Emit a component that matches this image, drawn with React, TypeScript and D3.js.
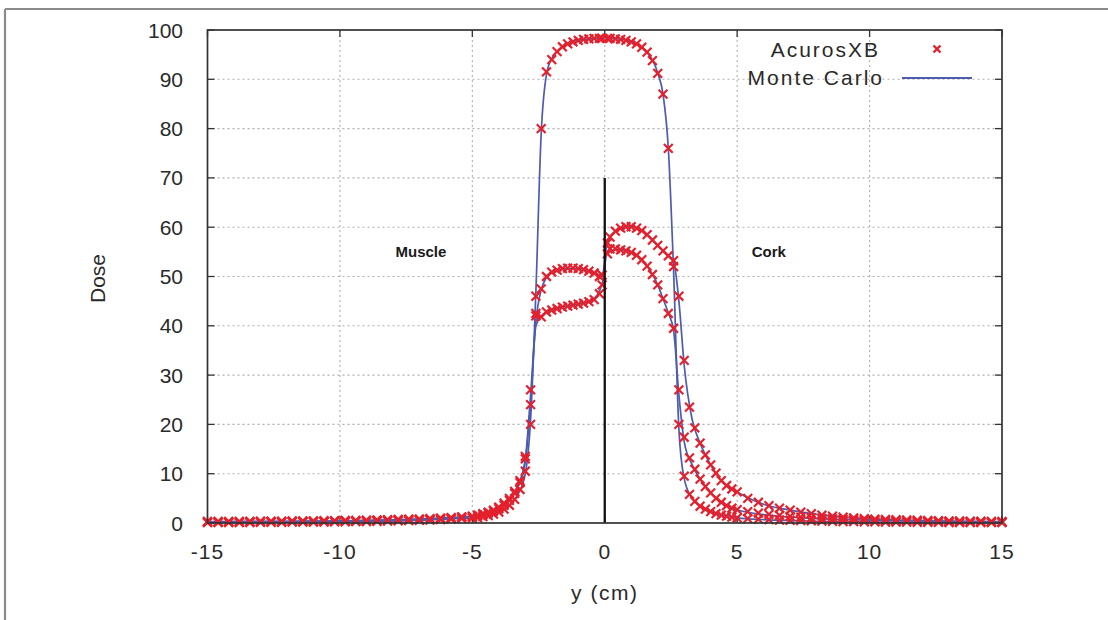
import React from "react";
import * as d3 from "d3";

// AcurosXB sample positions (cm)
const xAxb: number[] = [
  -15, -14.6, -14.2, -13.8, -13.4, -13, -12.6, -12.2, -11.8, -11.4, -11, -10.6, -10.2, -9.8, -9.4, -9, -8.6, -8.2, -7.8, -7.4, -7, -6.6, -6.2, -5.8, -5.4,
  -5, -4.8, -4.6, -4.4, -4.2, -4, -3.8, -3.6, -3.4, -3.2, -3, -2.8, -2.6, -2.4, -2.2, -2, -1.8, -1.6, -1.4, -1.2, -1, -0.8, -0.6, -0.4, -0.2, -0.1,
  0.1, 0.2, 0.4, 0.6, 0.8, 1, 1.2, 1.4, 1.6, 1.8, 2, 2.2, 2.4, 2.6, 2.8, 3, 3.2, 3.4, 3.6, 3.8, 4, 4.2, 4.4, 4.6, 4.8, 5,
  5.4, 5.8, 6.2, 6.6, 7, 7.4, 7.8, 8.2, 8.6, 9, 9.4, 9.8, 10.2, 10.6, 11, 11.4, 11.8, 12.2, 12.6, 13, 13.4, 13.8, 14.2, 14.6, 15,
];

// AcurosXB doses – open profile (homogeneous)
const axbA: number[] = [
  0.1, 0.1, 0.1, 0.1, 0.1, 0.15, 0.15, 0.15, 0.2, 0.2, 0.2, 0.2, 0.25, 0.25, 0.3, 0.3, 0.35, 0.4, 0.45, 0.5, 0.55, 0.6, 0.7, 0.8, 0.9,
  1.0, 1.1, 1.3, 1.5, 1.8, 2.2, 2.8, 3.6, 4.8, 6.8, 10.5, 20, 46, 80, 91.5, 94, 95.6, 96.6, 97.2, 97.6, 97.9, 98.1, 98.2, 98.3, 98.3, 98.3,
  98.3, 98.3, 98.2, 98.1, 97.9, 97.6, 97.2, 96.5, 95.5, 93.8, 91.2, 87, 76, 52, 20, 9.5, 5.8, 4.4, 3.4, 2.8, 2.3, 1.9, 1.6, 1.4, 1.2, 1.05,
  0.9, 0.8, 0.7, 0.6, 0.55, 0.5, 0.45, 0.4, 0.35, 0.3, 0.3, 0.25, 0.25, 0.2, 0.2, 0.2, 0.15, 0.15, 0.15, 0.1, 0.1, 0.1, 0.1, 0.1, 0.1,
];
// AcurosXB doses – upper muscle/cork profile
const axbB: number[] = [
  0.3, 0.3, 0.3, 0.3, 0.3, 0.35, 0.35, 0.35, 0.4, 0.4, 0.4, 0.45, 0.45, 0.5, 0.5, 0.55, 0.6, 0.65, 0.7, 0.75, 0.8, 0.9, 1.0, 1.1, 1.25,
  1.4, 1.6, 1.9, 2.2, 2.6, 3.2, 4.0, 5.0, 6.4, 8.6, 13.5, 27, 42, 47.5, 50, 50.9, 51.3, 51.6, 51.7, 51.7, 51.6, 51.4, 51.1, 50.7, 50.0, 50.3,
  56.8, 58, 59.2, 59.8, 60.1, 60.1, 59.8, 59.3, 58.5, 57.4, 56.3, 55.2, 54.2, 53.2, 46, 33, 23.5, 19.3, 16.2, 13.8, 11.8, 10.1, 8.6, 7.6, 6.9, 6.3,
  5.0, 4.2, 3.5, 3.0, 2.6, 2.2, 1.9, 1.6, 1.4, 1.2, 1.05, 0.9, 0.8, 0.7, 0.65, 0.6, 0.55, 0.5, 0.45, 0.4, 0.4, 0.35, 0.35, 0.3, 0.3,
];
// AcurosXB doses – lower muscle/cork profile
const axbC: number[] = [
  0.25, 0.25, 0.25, 0.25, 0.3, 0.3, 0.3, 0.3, 0.35, 0.35, 0.35, 0.4, 0.4, 0.45, 0.45, 0.5, 0.55, 0.6, 0.65, 0.7, 0.75, 0.85, 0.95, 1.05, 1.2,
  1.3, 1.5, 1.7, 2.0, 2.4, 2.9, 3.6, 4.6, 6.0, 8.2, 13, 24, 42.5, 41.8, 42.8, 43.2, 43.5, 43.8, 44.0, 44.2, 44.4, 44.6, 44.9, 45.3, 46.5, 48.3,
  54.6, 55.6, 55.6, 55.4, 55.2, 54.9, 54.3, 53.4, 52.1, 50.4, 48.3, 45.5, 42.5, 39.5, 27, 17.4, 13.2, 10.9, 8.9, 7.4, 6.1, 5.0, 4.2, 3.5, 3.0, 2.7,
  2.3, 2.0, 1.75, 1.55, 1.35, 1.2, 1.05, 0.95, 0.85, 0.75, 0.7, 0.6, 0.55, 0.5, 0.45, 0.4, 0.4, 0.35, 0.35, 0.3, 0.3, 0.25, 0.25, 0.25, 0.2,
];

// Monte Carlo positions (cm)
const xMc: number[] = [
  -15, -12, -10, -8, -7, -6, -5, -4.5, -4, -3.6, -3.3, -3.0, -2.8, -2.6, -2.4, -2.2, -2.0, -1.5, -1.0, -0.5, -0.1,
  0.1, 0.5, 1.0, 1.5, 2.0, 2.2, 2.4, 2.6, 2.8, 3.0, 3.3, 3.6, 4.0, 4.5, 5, 6, 7, 8, 10, 12, 15,
];
const mcA: number[] = [
  0.1, 0.15, 0.25, 0.4, 0.55, 0.8, 1.0, 1.4, 2.2, 3.6, 5.6, 10, 21, 47, 79, 91, 94.2, 96.9, 97.9, 98.2, 98.4,
  98.4, 98.2, 97.6, 96, 91.3, 87, 76, 51, 19, 9, 5, 3.4, 2.3, 1.5, 1.05, 0.7, 0.5, 0.35, 0.2, 0.15, 0.1,
];
const mcB: number[] = [
  0.3, 0.35, 0.45, 0.65, 0.8, 1.05, 1.4, 2.0, 3.1, 5.0, 7.4, 13, 26, 41, 47.3, 49.8, 50.8, 51.6, 51.6, 50.9, 50.2,
  57, 59.5, 60.1, 58.9, 56.3, 55.2, 54.2, 53, 45, 32, 21, 16.2, 11.8, 8.0, 6.3, 3.8, 2.6, 1.75, 0.85, 0.5, 0.3,
];
const mcC: number[] = [
  0.25, 0.3, 0.4, 0.6, 0.75, 1.0, 1.3, 1.8, 2.9, 4.6, 7.0, 12.5, 24, 40, 42, 42.8, 43.2, 43.9, 44.4, 45.1, 48.5,
  55, 55.5, 54.9, 52.8, 48.3, 45.5, 42.6, 39, 26, 16.5, 11.8, 8.9, 6.1, 3.8, 2.7, 1.7, 1.2, 0.9, 0.6, 0.4, 0.25,
];

const xTicks: number[] = [-15, -10, -5, 0, 5, 10, 15];
const yTicks: number[] = [0, 10, 20, 30, 40, 50, 60, 70, 80, 90, 100];
const interfaceLine: [number, number][] = [[0, 0], [0, 70]];
const regionLabels = [
  { text: "Muscle", x: -7.9, y: 55 },
  { text: "Cork", x: 5.55, y: 55 },
];
const legendNames = ["AcurosXB", "Monte Carlo"];

const W = 1108;
const H = 620;
const left = 207.5;
const right = 1002;
const top = 30;
const bottom = 523;

const FONT = "'Liberation Sans', Arial, sans-serif";
const TXT = "#2a2a2a";
const RED = "#e4202c";
const BLUE = "#4d5bb0";

export default function App() {
  const x = d3.scaleLinear().domain([-15, 15]).range([left, right]);
  const y = d3.scaleLinear().domain([0, 100]).range([bottom, top]);

  const mcSeries = [mcA, mcB, mcC];
  const axbSeries = [axbA, axbB, axbC];

  const line = d3
    .line<[number, number]>()
    .x((d) => x(d[0]))
    .y((d) => y(d[1]))
    .curve(d3.curveMonotoneX);

  const straight = d3
    .line<[number, number]>()
    .x((d) => x(d[0]))
    .y((d) => y(d[1]));

  const m = 4.4; // marker half-size

  return (
    <div style={{ position: "absolute", left: 0, top: 0, width: W, height: H, background: "#fff" }}>
      <svg width={W} height={H} style={{ display: "block" }}>
        <rect x={0} y={0} width={W} height={H} fill="#fff" />
        {/* outer image border */}
        <line x1={5} y1={9} x2={W} y2={9} stroke="#8a8a8a" strokeWidth={2.2} />
        <line x1={5} y1={9} x2={5} y2={H} stroke="#8a8a8a" strokeWidth={2.2} />

        {/* grid */}
        {xTicks.slice(1, -1).map((t) => (
          <line key={"gx" + t} x1={x(t)} x2={x(t)} y1={top} y2={bottom} stroke="#b0b0b0" strokeWidth={1.1} strokeDasharray="2,3" />
        ))}
        {yTicks.slice(1, -1).map((t) => (
          <line key={"gy" + t} x1={left} x2={right} y1={y(t)} y2={y(t)} stroke="#b0b0b0" strokeWidth={1.1} strokeDasharray="2,3" />
        ))}

        {/* ticks */}
        {xTicks.map((t) => (
          <g key={"tx" + t}>
            <line x1={x(t)} x2={x(t)} y1={bottom} y2={bottom - 7} stroke="#333" strokeWidth={1.3} />
            <line x1={x(t)} x2={x(t)} y1={top} y2={top + 7} stroke="#333" strokeWidth={1.3} />
            <text x={x(t)} y={y(0) + 36} textAnchor="middle" fontFamily={FONT} fontSize={21} letterSpacing={1} fill={TXT}>
              {t < 0 ? "-" + Math.abs(t) : String(t)}
            </text>
          </g>
        ))}
        {yTicks.map((t) => (
          <g key={"ty" + t}>
            <line x1={left} x2={left + 7} y1={y(t)} y2={y(t)} stroke="#333" strokeWidth={1.3} />
            <line x1={right} x2={right - 7} y1={y(t)} y2={y(t)} stroke="#333" strokeWidth={1.3} />
            <text x={183} y={y(t) + 7.5} textAnchor="end" fontFamily={FONT} fontSize={21} fill={TXT}>
              {t}
            </text>
          </g>
        ))}

        {/* Monte Carlo lines */}
        {mcSeries.map((s, i) => (
          <path
            key={"mc" + i}
            d={line(xMc.map((v, j) => [v, s[j]] as [number, number])) || ""}
            fill="none"
            stroke={BLUE}
            strokeWidth={1.7}
          />
        ))}

        {/* AcurosXB markers */}
        {axbSeries.map((s, i) => (
          <g key={"axb" + i}>
            {xAxb.map((v, j) => {
              const cx = x(v);
              const cy = y(s[j]);
              return (
                <path
                  key={j}
                  d={`M${cx - m},${cy - m}L${cx + m},${cy + m}M${cx - m},${cy + m}L${cx + m},${cy - m}`}
                  stroke={RED}
                  strokeWidth={2.2}
                  fill="none"
                />
              );
            })}
          </g>
        ))}

        {/* interface line */}
        <path d={straight(interfaceLine) || ""} stroke="#111" strokeWidth={2.3} fill="none" />

        {/* frame */}
        <rect x={left} y={top} width={right - left} height={bottom - top} fill="none" stroke="#333" strokeWidth={1.7} />

        {/* region labels */}
        {regionLabels.map((r) => (
          <text key={r.text} x={x(r.x)} y={y(r.y) + 5} fontFamily={FONT} fontWeight="bold" fontSize={15} fill="#1a1a1a">
            {r.text}
          </text>
        ))}

        {/* axis titles */}
        <text x={(left + right) / 2} y={600} textAnchor="middle" fontFamily={FONT} fontSize={21} letterSpacing={1.5} fill={TXT}>
          y (cm)
        </text>
        <text
          x={0}
          y={0}
          transform={`translate(105,${(top + bottom) / 2 + 2}) rotate(-90)`}
          textAnchor="middle"
          fontFamily={FONT}
          fontSize={21}
          fill={TXT}
        >
          Dose
        </text>

        {/* legend */}
        <text x={880} y={57} textAnchor="end" fontFamily={FONT} fontSize={21} letterSpacing={2} fill={TXT}>
          {legendNames[0]}
        </text>
        <path
          d={`M${937 - 3.5},${49 - 3.5}L${937 + 3.5},${49 + 3.5}M${937 - 3.5},${49 + 3.5}L${937 + 3.5},${49 - 3.5}`}
          stroke={RED}
          strokeWidth={2.4}
        />
        <text x={884} y={85} textAnchor="end" fontFamily={FONT} fontSize={21} letterSpacing={2} fill={TXT}>
          {legendNames[1]}
        </text>
        <line x1={902} x2={972} y1={78} y2={78} stroke={BLUE} strokeWidth={1.9} />
      </svg>
    </div>
  );
}
